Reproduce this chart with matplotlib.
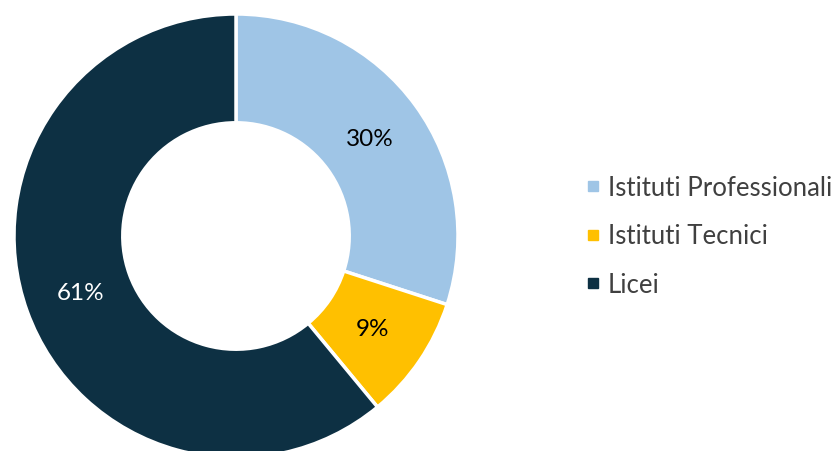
import matplotlib
matplotlib.use('Agg')
import matplotlib.pyplot as plt
from matplotlib.lines import Line2D
import numpy as np

plt.rcParams['font.family'] = ['Lato', 'DejaVu Sans']

categories = ["Istituti Professionali", "Istituti Tecnici", "Licei"]
values = [30, 9, 61]
labels = ["30%", "9%", "61%"]
colors = ["#9FC5E6", "#FFC000", "#0D3043"]
label_colors = ["black", "black", "white"]

W, H = 840, 452
fig = plt.figure(figsize=(W / 100, H / 100), dpi=100)

# pie centre at (236, 237) px from top, radius 222 px
cx, cy, r = 236, 237, 222
ax = fig.add_axes([(cx - r) / W, (H - cy - r) / H, 2 * r / W, 2 * r / H])

wedges, _ = ax.pie(values, colors=colors, startangle=90, counterclock=False,
                   radius=1, wedgeprops=dict(width=0.49, edgecolor='white', linewidth=2.5))
ax.set_xlim(-1, 1)
ax.set_ylim(-1, 1)
ax.set_aspect('equal')
ax.axis('off')

angle = 90.0
for v, lab, lc in zip(values, labels, label_colors):
    mid = np.deg2rad(angle - v * 3.6 / 2)
    angle -= v * 3.6
    ax.text(0.745 * np.cos(mid), 0.745 * np.sin(mid), lab, ha='center', va='center',
            fontsize=17.5, color=lc)

handles = [Line2D([], [], marker='s', linestyle='none', markersize=7,
                  markerfacecolor=c, markeredgecolor=c) for c in colors]
fig.legend(handles, categories, loc='center left', bbox_to_anchor=(576 / W, 1 - 237 / H),
           frameon=False, fontsize=18.5, labelcolor='#404040', handlelength=0.5,
           handletextpad=0.35, labelspacing=0.9, borderaxespad=0)

fig.savefig('out.png', dpi=100)
